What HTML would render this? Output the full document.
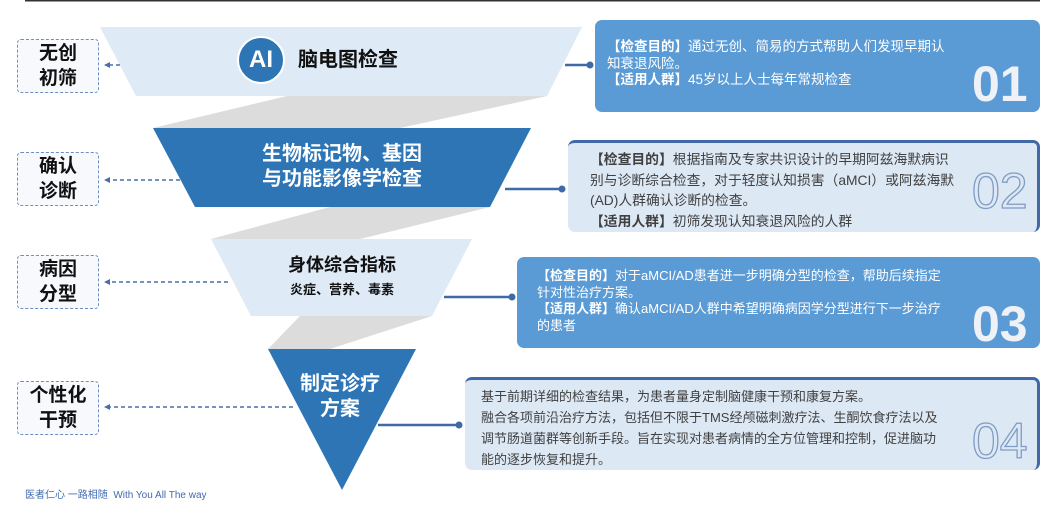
<!DOCTYPE html>
<html><head><meta charset="utf-8"><style>
body{margin:0;width:1060px;height:515px;background:#fff;position:relative;overflow:hidden;font-family:"Liberation Sans","Noto Sans CJK SC",sans-serif}
.a{position:absolute}
.lb{position:absolute;left:17px;width:82px;border:1.5px dashed #6d8fc0;border-radius:4px;background:#f7f9fc;font-weight:bold;font-size:19px;line-height:25px;text-align:center;color:#111;padding-top:1px;box-sizing:border-box;height:54px}
.rb{position:absolute;border-radius:7px;font-size:13px;line-height:16.5px;box-sizing:border-box;white-space:nowrap}
.num{position:absolute;font-weight:bold;font-size:50px;font-family:"Liberation Sans",sans-serif}
</style></head><body>
<svg class="a" style="left:0;top:0" width="1060" height="515">
<line x1="25" y1="0.5" x2="1040" y2="0.5" stroke="#333" stroke-width="2"/>
<polygon points="287,96 547,96 400,128 153,128" fill="#dcdcdc"/>
<polygon points="330,207 490,207 360,239 211,239" fill="#dcdcdc"/>
<polygon points="300,316 432,316 330,349 268,349" fill="#dcdcdc"/>
<polygon points="100,27 582,27 547,96 136,96" fill="#deeaf6"/>
<polygon points="153,128 531,128 490,207 195,207" fill="#2e75b6"/>
<polygon points="211,239 472,239 432,316 251,316" fill="#deeaf6"/>
<polygon points="268,349 416,349 342,490" fill="#2e75b6"/>
<circle cx="261" cy="60" r="23" fill="#2e75b6" stroke="#fff" stroke-width="2"/>
<g stroke="#4a6fa5" stroke-width="1.5" stroke-dasharray="4,3" fill="none">
<line x1="120" y1="65" x2="108" y2="65"/><line x1="180" y1="180" x2="108" y2="180"/>
<line x1="228" y1="282" x2="108" y2="282"/><line x1="293" y1="407" x2="108" y2="407"/>
</g>
<g fill="#4a6fa5">
<polygon points="104,65 110,62 110,68"/><polygon points="104,180 110,177 110,183"/>
<polygon points="104,282 110,279 110,285"/><polygon points="104,407 110,404 110,410"/>
</g>
<g stroke="#3f6aa6" stroke-width="2.5">
<line x1="565" y1="65" x2="590" y2="65"/><line x1="505" y1="189" x2="562" y2="189"/>
<line x1="444" y1="297" x2="512" y2="297"/><line x1="378" y1="425" x2="459" y2="425"/>
</g>
<g fill="#3f6aa6"><circle cx="590" cy="65" r="3.5"/><circle cx="562" cy="189" r="3.5"/><circle cx="512" cy="297" r="3.5"/><circle cx="459" cy="425" r="3.5"/></g>
</svg>
<div class="a" style="left:238px;top:46px;width:46px;text-align:center;color:#fff;font-weight:bold;font-size:24px;line-height:28px">AI</div>
<div class="a" style="left:298px;top:47px;font-weight:bold;font-size:20px;line-height:26px;color:#111">脑电图检查</div>
<div class="a" style="left:192px;top:142px;width:300px;text-align:center;font-weight:bold;font-size:20px;line-height:25px;color:#fff">生物标记物、基因<br>与功能影像学检查</div>
<div class="a" style="left:192px;top:253px;width:300px;text-align:center;font-weight:bold;font-size:18px;line-height:24px;color:#111">身体综合指标</div>
<div class="a" style="left:192px;top:281px;width:300px;text-align:center;font-weight:bold;font-size:13px;line-height:18px;color:#111">炎症、营养、毒素</div>
<div class="a" style="left:240px;top:372px;width:200px;text-align:center;font-weight:bold;font-size:20px;line-height:25px;color:#fff">制定诊疗<br>方案</div>
<div class="lb" style="top:39px">无创<br>初筛</div>
<div class="lb" style="top:152px">确认<br>诊断</div>
<div class="lb" style="top:255px">病因<br>分型</div>
<div class="lb" style="top:381px">个性化<br>干预</div>
<div class="rb" style="left:595px;top:20px;width:445px;height:92px;background:#5b9bd5;color:#fff;padding:19px 0 0 12px;font-size:13.5px"><b>【检查目的】</b>通过无创、简易的方式帮助人们发现早期认<br>知衰退风险。<br><b>【适用人群】</b>45岁以上人士每年常规检查</div>
<div class="num" style="left:972px;top:55px;color:#eef2f7">01</div>
<div class="rb" style="left:568px;top:140px;width:472px;height:92px;background:#dde8f5;border-top:3px solid #3f6aa6;border-right:3px solid #3f6aa6;color:#404040;line-height:20.5px;padding:7px 0 0 22px;font-size:13.8px"><b>【检查目的】</b>根据指南及专家共识设计的早期阿兹海默病识<br>别与诊断综合检查，对于轻度认知损害（aMCI）或阿兹海默<br>(AD)人群确认诊断的检查。<br><b>【适用人群】</b>初筛发现认知衰退风险的人群</div>
<div class="num" style="left:972px;top:162px;color:#dde8f5;-webkit-text-stroke:1.3px #7f9cc4;font-weight:normal">02</div>
<div class="rb" style="left:517px;top:257px;width:523px;height:91px;background:#5b9bd5;color:#fff;padding:11px 0 0 20px"><b>【检查目的】</b>对于aMCI/AD患者进一步明确分型的检查，帮助后续指定<br>针对性治疗方案。<br><b>【适用人群】</b>确认aMCI/AD人群中希望明确病因学分型进行下一步治疗<br>的患者</div>
<div class="num" style="left:972px;top:295px;color:#eef2f7">03</div>
<div class="rb" style="left:465px;top:377px;width:575px;height:93px;background:#dde8f5;border-top:3px solid #3f6aa6;border-right:3px solid #3f6aa6;color:#404040;line-height:21px;padding:6px 0 0 16px">基于前期详细的检查结果，为患者量身定制脑健康干预和康复方案。<br>融合各项前沿治疗方法，包括但不限于TMS经颅磁刺激疗法、生酮饮食疗法以及<br>调节肠道菌群等创新手段。旨在实现对患者病情的全方位管理和控制，促进脑功<br>能的逐步恢复和提升。</div>
<div class="num" style="left:972px;top:412px;color:#dde8f5;-webkit-text-stroke:1.3px #7f9cc4;font-weight:normal">04</div>
<div class="a" style="left:25px;top:486px;font-size:10px;color:#3f6ab0">医者仁心 一路相随 &nbsp;With You All The way</div>
</body></html>
